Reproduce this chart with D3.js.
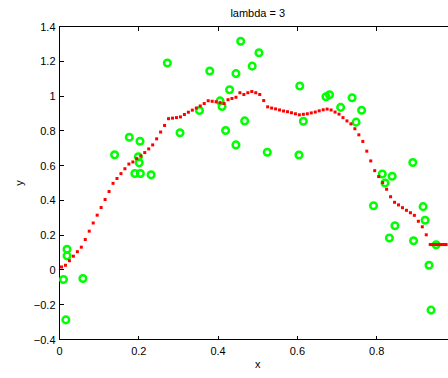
<!DOCTYPE html>
<html lang="en">
<head>
    <meta charset="utf-8">
    <title>lambda = 3</title>
    <script src="https://d3js.org/d3.v7.min.js"></script>
    <style>
        body { margin: 0; background: white; }
        svg { display: block; }
        text { font-family: "Liberation Sans", Arial, sans-serif; font-size: 11px; fill: #000; }
    </style>
</head>
<body>
    <div id="chart"></div>
    <script>
        // Data
        var pointX = [0.010, 0.016, 0.019, 0.019, 0.059, 0.139, 0.176, 0.203, 0.199, 0.201,
                      0.190, 0.204, 0.231, 0.272, 0.304, 0.353, 0.379, 0.405, 0.410, 0.419,
                      0.429, 0.445, 0.445, 0.457, 0.467, 0.486, 0.503, 0.524, 0.606, 0.615,
                      0.604, 0.672, 0.681, 0.709, 0.738, 0.762, 0.748, 0.891, 0.814, 0.839,
                      0.821, 0.792, 0.917, 0.922, 0.846, 0.832, 0.893, 0.950, 0.932, 0.937];
        var pointY = [-0.055, -0.287, 0.081, 0.119, -0.049, 0.662, 0.763, 0.740, 0.651, 0.616,
                      0.555, 0.555, 0.547, 1.190, 0.789, 0.917, 1.144, 0.972, 0.940, 0.802,
                      1.036, 0.719, 1.129, 1.315, 0.857, 1.172, 1.249, 0.677, 1.058, 0.855,
                      0.661, 0.996, 1.007, 0.935, 0.990, 0.918, 0.850, 0.618, 0.552, 0.539,
                      0.500, 0.369, 0.364, 0.286, 0.254, 0.184, 0.168, 0.145, 0.027, -0.231];

        var fitX = [0.005, 0.015, 0.025, 0.035, 0.045, 0.055, 0.065, 0.075, 0.085, 0.095,
                    0.105, 0.115, 0.125, 0.135, 0.145, 0.155, 0.165, 0.175, 0.185, 0.195,
                    0.205, 0.215, 0.225, 0.235, 0.245, 0.255, 0.265, 0.275, 0.285, 0.295,
                    0.305, 0.315, 0.325, 0.335, 0.345, 0.355, 0.365, 0.375, 0.385, 0.395,
                    0.405, 0.415, 0.425, 0.435, 0.445, 0.455, 0.465, 0.475, 0.485, 0.495,
                    0.505, 0.515, 0.525, 0.535, 0.545, 0.555, 0.565, 0.575, 0.585, 0.595,
                    0.605, 0.615, 0.625, 0.635, 0.645, 0.655, 0.665, 0.675, 0.685, 0.695,
                    0.705, 0.715, 0.725, 0.735, 0.745, 0.755, 0.765, 0.775, 0.785, 0.795,
                    0.805, 0.815, 0.825, 0.835, 0.845, 0.855, 0.865, 0.875, 0.885, 0.895,
                    0.905, 0.915, 0.925, 0.935, 0.940, 0.945, 0.950, 0.955, 0.960, 0.965,
                    0.970, 0.975];
        var fitY = [0.017, 0.027, 0.053, 0.079, 0.105, 0.131, 0.175, 0.223, 0.270, 0.315,
                    0.359, 0.405, 0.451, 0.498, 0.526, 0.554, 0.582, 0.609, 0.621, 0.640,
                    0.655, 0.675, 0.696, 0.719, 0.754, 0.793, 0.831, 0.870, 0.873, 0.876,
                    0.880, 0.894, 0.907, 0.919, 0.931, 0.943, 0.957, 0.973, 0.970, 0.967,
                    0.962, 0.957, 0.979, 0.986, 0.993, 1.019, 1.009, 1.019, 1.026, 1.019,
                    1.009, 0.974, 0.938, 0.931, 0.926, 0.920, 0.914, 0.910, 0.904, 0.898,
                    0.892, 0.895, 0.898, 0.903, 0.908, 0.915, 0.921, 0.925, 0.920, 0.908,
                    0.896, 0.876, 0.857, 0.840, 0.812, 0.777, 0.739, 0.683, 0.627, 0.571,
                    0.537, 0.502, 0.464, 0.421, 0.389, 0.374, 0.358, 0.343, 0.329, 0.314,
                    0.280, 0.248, 0.202, 0.146, 0.146, 0.146, 0.146, 0.146, 0.146, 0.146,
                    0.146, 0.146];

        var xTicks = [0, 0.2, 0.4, 0.6, 0.8, 1];
        var xTickLabels = [0, 0.2, 0.4, 0.6, 0.8];   // the "1" falls outside the picture
        var yTicks = [-0.4, -0.2, 0, 0.2, 0.4, 0.6, 0.8, 1, 1.2, 1.4];

        var width = 448, height = 378;
        // axes box runs past the right edge of the picture (x = 1 is cut off)
        var boxL = 59.5, boxT = 26.5, boxR = 456, boxB = 339.5;

        var svg = d3.select("#chart").append("svg")
            .attr("width", width)
            .attr("height", height);

        var x = d3.scaleLinear().domain([0, 1]).range([boxL, boxR]);
        var y = d3.scaleLinear().domain([-0.4, 1.4]).range([boxB, boxT]);

        var fmt = function(d) { return String(d).replace("-", "\u2212"); };

        // inward ticks, MATLAB style
        var tickLen = 4;
        var g = svg.append("g").attr("shape-rendering", "crispEdges");
        g.selectAll(".xt").data(xTicks).enter().append("line")
            .attr("x1", d => x(d)).attr("x2", d => x(d))
            .attr("y1", boxB).attr("y2", boxB - tickLen)
            .attr("stroke", "#000");
        g.selectAll(".xtt").data(xTicks).enter().append("line")
            .attr("x1", d => x(d)).attr("x2", d => x(d))
            .attr("y1", boxT).attr("y2", boxT + tickLen)
            .attr("stroke", "#000");
        g.selectAll(".yt").data(yTicks).enter().append("line")
            .attr("x1", boxL).attr("x2", boxL + tickLen)
            .attr("y1", d => y(d)).attr("y2", d => y(d))
            .attr("stroke", "#000");

        svg.selectAll(".xl").data(xTickLabels).enter().append("text")
            .attr("x", d => x(d)).attr("y", boxB + 15)
            .attr("text-anchor", "middle")
            .text(fmt);
        svg.selectAll(".yl").data(yTicks).enter().append("text")
            .attr("x", boxL - 4).attr("y", d => y(d) + 4)
            .attr("text-anchor", "end")
            .text(fmt);

        // box
        svg.append("rect")
            .attr("x", boxL).attr("y", boxT)
            .attr("width", boxR - boxL).attr("height", boxB - boxT)
            .attr("fill", "none").attr("stroke", "#000").attr("stroke-width", 1)
            .attr("shape-rendering", "crispEdges");

        // scatter: green rings
        svg.append("g").selectAll("circle")
            .data(d3.range(pointX.length))
            .enter().append("circle")
            .attr("cx", i => x(pointX[i]))
            .attr("cy", i => y(pointY[i]))
            .attr("r", 3.3)
            .attr("fill", "none")
            .attr("stroke", "#00ff00")
            .attr("stroke-width", 2.5);

        // fitted curve: small red squares
        var s = 3;
        svg.append("g").selectAll("rect")
            .data(d3.range(fitX.length))
            .enter().append("rect")
            .attr("x", i => x(fitX[i]) - s / 2)
            .attr("y", i => y(fitY[i]) - s / 2)
            .attr("width", s).attr("height", s)
            .attr("fill", "#ff0000");

        svg.append("text")
            .attr("x", (boxL + boxR) / 2).attr("y", 17)
            .attr("text-anchor", "middle")
            .text("lambda = 3");
        svg.append("text")
            .attr("x", (boxL + boxR) / 2).attr("y", 368)
            .attr("text-anchor", "middle")
            .text("x");
        svg.append("text")
            .attr("transform", "translate(23,183) rotate(-90)")
            .attr("text-anchor", "middle")
            .text("y");
    </script>
</body>
</html>
